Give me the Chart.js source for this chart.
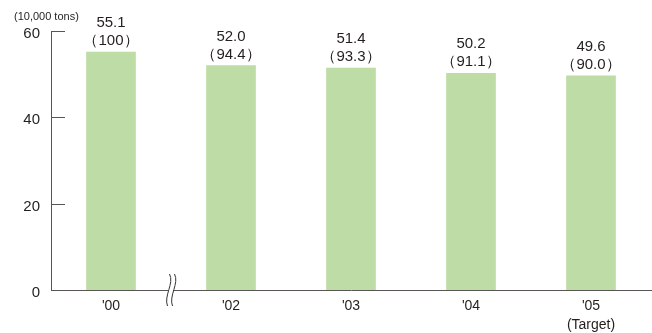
<!DOCTYPE html>
<html>
<head>
<meta charset="utf-8">
<script src="https://cdn.jsdelivr.net/npm/chart.js@4/dist/chart.umd.min.js"></script>
<style>
  html, body { margin: 0; padding: 0; background: #fff; }
  #wrap { width: 652px; height: 333px; position: relative; }
</style>
</head>
<body>
<div id="wrap"><canvas id="tonsChart" width="652" height="333"></canvas></div>
<script>
// Data
const categories = ["'00", "'02", "'03", "'04", ["'05", "(Target)"]];
const tonValues = [55.1, 52.0, 51.4, 50.2, 49.6];
const indexLabels = ['100', '94.4', '93.3', '91.1', '90.0'];
const yTicks = [0, 20, 40, 60];
const unitLabel = '(10,000 tons)';

const axisColor = '#5a5555';
const textColor = '#231f20';
const fontFamily = '"Liberation Sans", Arial, Helvetica, sans-serif';

// Value + index labels above each bar, plus unit caption
const labelPlugin = {
    id: 'labelPlugin',
    afterDatasetsDraw(chart) {
        const ctx = chart.ctx;
        const meta = chart.getDatasetMeta(0);
        ctx.save();
        ctx.fillStyle = textColor;
        ctx.textAlign = 'center';
        ctx.textBaseline = 'middle';
        ctx.font = '15px ' + fontFamily;
        meta.data.forEach((bar, i) => {
            ctx.fillText(tonValues[i].toFixed(1), bar.x, bar.y - 29);
            ctx.fillText('\uFF08' + indexLabels[i] + '\uFF09', bar.x, bar.y - 11);
        });
        ctx.font = '11px ' + fontFamily;
        ctx.textAlign = 'left';
        ctx.fillText(unitLabel, 14, 17);
        ctx.restore();
    }
};

// Inward tick marks on the y axis and the break mark on the x axis
const axisPlugin = {
    id: 'axisPlugin',
    afterDraw(chart) {
        const ctx = chart.ctx;
        const y = chart.scales.y;
        const x = chart.scales.x;
        const area = chart.chartArea;
        ctx.save();
        ctx.strokeStyle = axisColor;
        ctx.lineWidth = 1;
        yTicks.forEach(t => {
            if (t === 0) return;
            const py = Math.round(y.getPixelForValue(t)) + 0.5;
            ctx.beginPath();
            ctx.moveTo(area.left, py);
            ctx.lineTo(area.left + 14, py);
            ctx.stroke();
        });
        // break between '00 and '02
        const bx = (x.getPixelForValue(0) + x.getPixelForValue(1)) / 2;
        const by = area.bottom;
        ctx.fillStyle = '#fff';
        ctx.fillRect(bx - 3, by - 2, 5, 4);
        ctx.strokeStyle = '#333';
        [-2.5, 2.5].forEach(off => {
            ctx.beginPath();
            ctx.moveTo(bx + off + 1, by - 16);
            ctx.bezierCurveTo(bx + off + 6, by - 7, bx + off - 5, by + 6, bx + off - 1, by + 16);
            ctx.stroke();
        });
        ctx.restore();
    }
};

const ctx = document.getElementById('tonsChart').getContext('2d');
const tonsChart = new Chart(ctx, {
    type: 'bar',
    data: {
        labels: categories,
        datasets: [{
            data: tonValues,
            backgroundColor: '#bedca5',
            borderWidth: 0,
            barThickness: 49
        }]
    },
    options: {
        responsive: false,
        animation: false,
        layout: { padding: { top: 31, right: 1, left: 0, bottom: 0 } },
        plugins: {
            legend: { display: false },
            tooltip: { enabled: false }
        },
        scales: {
            x: {
                grid: { display: false, drawTicks: false },
                border: { display: true, color: axisColor, width: 1 },
                ticks: {
                    color: textColor,
                    font: { family: fontFamily, size: 14, lineHeight: 1.4 },
                    padding: 6,
                    maxRotation: 0
                },
                afterFit(scale) { scale.height = 43; }
            },
            y: {
                min: 0,
                max: 60,
                afterBuildTicks(scale) {
                    scale.ticks = yTicks.map(v => ({ value: v }));
                },
                grid: { display: false, drawTicks: false },
                border: { display: true, color: axisColor, width: 1 },
                ticks: {
                    color: textColor,
                    font: { family: fontFamily, size: 15 },
                    padding: 11,
                    labelOffset: 3
                },
                afterFit(scale) { scale.width = 51; }
            }
        }
    },
    plugins: [labelPlugin, axisPlugin]
});
</script>
</body>
</html>
